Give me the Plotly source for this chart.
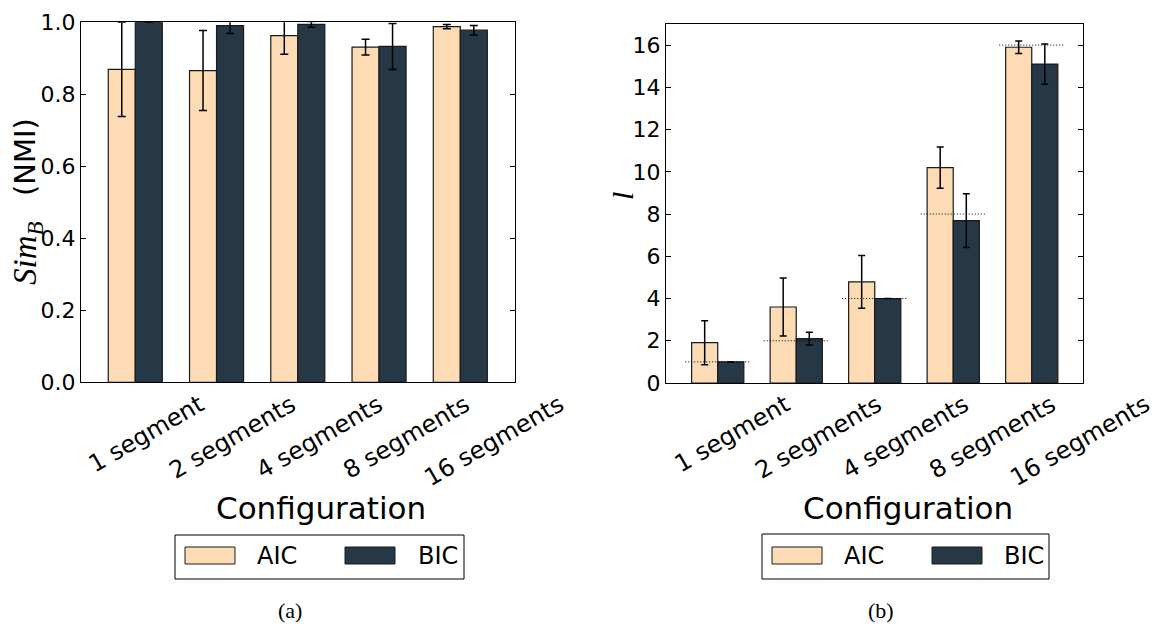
import plotly.graph_objects as go

# ---- data ----
categories = ["1 segment", "2 segments", "4 segments", "8 segments", "16 segments"]

sim_aic = [0.869, 0.866, 0.963, 0.931, 0.988]
sim_aic_err = [0.131, 0.111, 0.052, 0.022, 0.006]
sim_bic = [1.000, 0.991, 0.994, 0.933, 0.978]
sim_bic_err = [0.0, 0.022, 0.008, 0.064, 0.013]

seg_aic = [1.91, 3.60, 4.79, 10.20, 15.90]
seg_aic_err = [1.04, 1.37, 1.25, 0.98, 0.30]
seg_bic = [1.00, 2.10, 4.00, 7.69, 15.10]
seg_bic_err = [0.0, 0.30, 0.0, 1.27, 0.95]

true_segments = [1, 2, 4, 8, 16]
series_names = ["AIC", "BIC"]

# ---- style ----
W, H = 1159, 624
AIC_COLOR = "#FDDBB4"
BIC_COLOR = "#263746"
EDGE = "#1a1a1a"
SANS = "DejaVu Sans"
SERIF = "Liberation Serif"

idx = list(range(len(categories)))


def px(x):
    return x / W


def py(y):
    return 1 - y / H


fig = go.Figure()

panels = [
    dict(xa="x", ya="y", aic=sim_aic, aic_e=sim_aic_err, bic=sim_bic, bic_e=sim_bic_err, cap=4),
    dict(xa="x2", ya="y2", aic=seg_aic, aic_e=seg_aic_err, bic=seg_bic, bic_e=seg_bic_err, cap=3.5),
]

for p in panels:
    for name, vals, errs, color in [
        (series_names[0], p["aic"], p["aic_e"], AIC_COLOR),
        (series_names[1], p["bic"], p["bic_e"], BIC_COLOR),
    ]:
        fig.add_trace(go.Bar(
            x=idx, y=vals, name=name, xaxis=p["xa"], yaxis=p["ya"],
            marker=dict(color=color, line=dict(color=EDGE, width=1.2)),
            error_y=dict(type="data", array=errs, visible=True, color="black",
                         thickness=1.5, width=p["cap"]),
            showlegend=False,
        ))

# reference level: the true number of segments for each configuration
half = 0.414
dx, dy = [], []
for i, t in zip(idx, true_segments):
    dx += [i - half, i + half, None]
    dy += [t, t, None]
fig.add_trace(go.Scatter(
    x=dx, y=dy, mode="lines", xaxis="x2", yaxis="y2",
    line=dict(color="black", width=1, dash="1px,2px"),
    showlegend=False, hoverinfo="skip",
))

axis_common = dict(
    showline=True, linecolor="black", linewidth=1, mirror=True,
    showgrid=False, zeroline=False, automargin=False,
)
yaxis_common = dict(
    axis_common, mirror="ticks", ticks="inside", ticklen=5, tickcolor="black",
    tickfont=dict(family=SANS, size=22, color="black"),
)

fig.update_layout(
    width=W, height=H,
    margin=dict(l=0, r=0, t=0, b=0, autoexpand=False),
    paper_bgcolor="white", plot_bgcolor="white",
    barmode="group",
    bargap=0.335, bargroupgap=0,
    showlegend=False,
    xaxis=dict(axis_common, domain=[px(81), px(515)], range=[-0.668, 4.673],
               showticklabels=False, ticks=""),
    yaxis=dict(yaxis_common, domain=[py(382.3), py(22.3)], range=[0, 1.0],
               tickvals=[0, 0.2, 0.4, 0.6, 0.8, 1.0], tickformat=".1f"),
    xaxis2=dict(axis_common, domain=[px(666), px(1083)], range=[-0.659, 4.653],
                showticklabels=False, ticks="", anchor="y2"),
    yaxis2=dict(yaxis_common, domain=[py(383), py(24)], range=[0, 17],
                tickvals=[0, 2, 4, 6, 8, 10, 12, 14, 16], anchor="x2"),
)

annotations = []
shapes = []

# rotated category labels
for x0 in (146, 732):
    for i, lab in enumerate(categories):
        annotations.append(dict(
            text=lab, xref="paper", yref="paper",
            x=px(x0 + 86.9 * i), y=py(387), xanchor="center", yanchor="top",
            textangle=-30, showarrow=False,
            font=dict(family=SANS, size=24, color="black"),
        ))

# x-axis titles
for xc in (321, 908):
    annotations.append(dict(
        text="Configuration", xref="paper", yref="paper",
        x=px(xc), y=py(508), xanchor="center", yanchor="middle", showarrow=False,
        font=dict(family=SANS, size=31, color="black"),
    ))

# y-axis titles
annotations.append(dict(
    text="<i>Sim</i><sub><i>B</i></sub>",
    xref="paper", yref="paper", x=px(27), y=py(253),
    xanchor="center", yanchor="middle", textangle=-90, showarrow=False,
    font=dict(family=SERIF, size=33, color="black"),
))
annotations.append(dict(
    text="(NMI)",
    xref="paper", yref="paper", x=px(25), y=py(157),
    xanchor="center", yanchor="middle", textangle=-90, showarrow=False,
    font=dict(family=SANS, size=29, color="black"),
))
annotations.append(dict(
    text="<i>l</i>", xref="paper", yref="paper", x=px(622), y=py(196),
    xanchor="center", yanchor="middle", textangle=-90, showarrow=False,
    font=dict(family=SERIF, size=30, color="black"),
))

# legends
legend_boxes = [
    dict(box=(175, 535, 464, 579), patches=(185, 345), texts=(255, 416)),
    dict(box=(762, 534, 1049, 579), patches=(772, 932), texts=(842, 1002)),
]
for lg in legend_boxes:
    x0, y0, x1, y1 = lg["box"]
    shapes.append(dict(type="rect", xref="paper", yref="paper",
                       x0=px(x0), x1=px(x1), y0=py(y1), y1=py(y0),
                       line=dict(color="black", width=1), fillcolor="white"))
    for pxl, color in zip(lg["patches"], (AIC_COLOR, BIC_COLOR)):
        shapes.append(dict(type="rect", xref="paper", yref="paper",
                           x0=px(pxl), x1=px(pxl + 50), y0=py(564), y1=py(547),
                           line=dict(color=EDGE, width=1), fillcolor=color))
    for tx, name in zip(lg["texts"], series_names):
        annotations.append(dict(
            text=name, xref="paper", yref="paper", x=px(tx), y=py(556),
            xanchor="left", yanchor="middle", showarrow=False,
            font=dict(family=SANS, size=24, color="black"),
        ))

# sub-figure captions
for xc, cap in ((290, "(a)"), (881, "(b)")):
    annotations.append(dict(
        text=cap, xref="paper", yref="paper", x=px(xc), y=py(610),
        xanchor="center", yanchor="middle", showarrow=False,
        font=dict(family=SERIF, size=22, color="black"),
    ))

fig.update_layout(annotations=annotations, shapes=shapes)

fig.write_html("out.html")
